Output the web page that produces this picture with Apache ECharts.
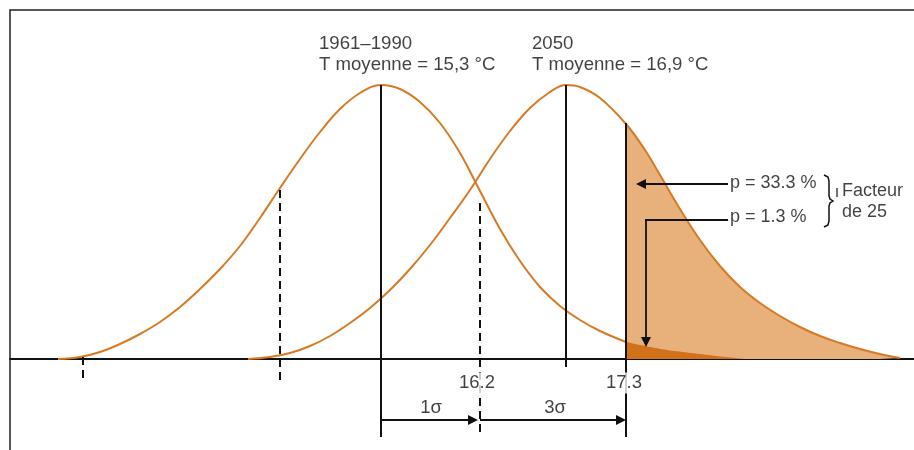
<!DOCTYPE html>
<html>
<head>
<meta charset="utf-8">
<script src="https://cdn.jsdelivr.net/npm/echarts@6/dist/echarts.min.js"></script>
<style>
  html, body { margin: 0; padding: 0; background: #fff; }
  #chart { width: 914px; height: 450px; }
</style>
</head>
<body>
<div id="chart"></div>
<script>
// horizontal position / height above the baseline
const curve1990 = [[58, 0], [80, 2], [100, 7], [120, 15], [140, 25], [160, 37], [180, 52], [200, 70],
  [220, 90], [240, 113], [260, 141], [280, 171], [300, 200], [320, 227], [340, 250], [360, 266],
  [381, 274], [400, 270], [420, 257], [440, 236], [460, 206], [480, 168], [500, 130], [520, 98],
  [540, 72], [560, 53], [580, 39], [600, 28], [626, 17]]
const tail1990 = [[626, 17], [667, 9], [745, 0]]
const curve2050 = [[248, 0], [270, 2], [290, 6], [310, 13], [330, 23], [350, 36], [370, 51], [390, 69],
  [410, 90], [430, 114], [450, 141], [470, 169], [490, 200], [510, 228], [530, 251], [550, 267],
  [566, 274], [580, 272], [600, 261], [626, 235], [645, 209], [660, 184], [680, 150], [700, 119],
  [720, 93], [740, 72], [760, 56], [780, 43], [800, 32], [820, 23], [840, 16], [860, 10], [880, 5],
  [900, 1]]
const tail2050 = curve2050.filter(p => p[0] >= 626)

// [x, top, bottom]
const meanLines = [[381, 274, -78], [566, 274, -8], [626, 236, -78]]
const sigmaLines = [[83, 2, -21], [280, 169, -21], [480, 156, -78]]

const sigmaArrows = [[[381, -61], [473, -61]], [[480, -61], [621, -61]]]
const probArrows = [[[728, 175], [641, 175]], [[646, 139], [646, 17]]]
const probLeader = [[[728, 139], [645, 139]]]

const titles = [['1961–1990\nT moyenne = 15,3 °C', 319, 326], ['2050\nT moyenne = 16,9 °C', 532, 326]]
const tempTicks = [['16.2', 477, -24], ['17.3', 624, -24]]
const sigmaTexts = [['1σ', 431, -49], ['3σ', 555, -49]]
const probTexts = [['p = 33.3 %', 729, 176], ['p = 1.3 %', 729, 142]]
const factorTexts = [['Facteur', 842, 168], ['de 25', 842, 147]]

const ORANGE = '#D67A24'
const LIGHT = '#E8B17C'
const DARK = '#D1721B'
const FONT = 'Liberation Sans, Arial, sans-serif'

const chart = echarts.init(document.getElementById('chart'))

function vLines(list) {
  return list.map(l => [{ coord: [l[0], l[1]] }, { coord: [l[0], l[2]] }])
}
function segs(list) {
  return list.map(s => [{ coord: s[0] }, { coord: s[1] }])
}
function textItems(list, align, vAlign, size, extra) {
  return list.map(t => ({
    value: [t[1], t[2]],
    label: Object.assign({
      show: true,
      position: 'inside',
      formatter: t[0],
      align: align,
      verticalAlign: vAlign,
      fontSize: size,
      fontFamily: FONT,
      color: '#111'
    }, extra || {})
  }))
}

chart.setOption({
  animation: false,
  backgroundColor: '#fff',
  grid: { left: 10, right: 0, top: 10, bottom: 0 },
  xAxis: {
    type: 'value',
    min: 10,
    max: 914,
    axisLine: { onZero: true, lineStyle: { color: '#111', width: 2 } },
    axisTick: { show: false },
    axisLabel: { show: false },
    splitLine: { show: false }
  },
  yAxis: {
    type: 'value',
    min: -91,
    max: 349,
    show: false
  },
  graphic: [
    {
      type: 'polyline',
      shape: { points: [[10, 450], [10, 10], [914, 10]] },
      style: { stroke: '#222', lineWidth: 1.5, fill: null },
      z: 100
    },
    {
      type: 'polyline',
      shape: { points: [[824, 175], [828, 177], [829, 181], [829, 196], [830, 199], [833, 201],
        [830, 203], [829, 206], [829, 221], [828, 225], [824, 227]] },
      style: { stroke: '#111', lineWidth: 1.5, fill: null },
      z: 100
    },
    {
      type: 'line',
      shape: { x1: 837, y1: 188, x2: 837, y2: 197 },
      style: { stroke: '#111', lineWidth: 1.2 },
      z: 100
    }
  ],
  series: [
    {
      name: 'queue 2050',
      type: 'line',
      data: tail2050,
      smooth: 0.4,
      symbol: 'none',
      lineStyle: { width: 0 },
      areaStyle: { color: LIGHT, opacity: 1 },
      z: 1
    },
    {
      name: 'queue 1961-1990',
      type: 'line',
      data: tail1990,
      smooth: 0.3,
      symbol: 'none',
      lineStyle: { width: 0 },
      areaStyle: { color: DARK, opacity: 1 },
      z: 2
    },
    {
      name: '1961-1990',
      type: 'line',
      data: curve1990,
      smooth: 0.4,
      symbol: 'none',
      lineStyle: { color: ORANGE, width: 2 },
      z: 3
    },
    {
      name: '2050',
      type: 'line',
      data: curve2050,
      smooth: 0.4,
      symbol: 'none',
      lineStyle: { color: ORANGE, width: 2 },
      z: 3
    },
    {
      name: 'moyennes',
      type: 'line',
      data: [],
      z: 4,
      markLine: {
        silent: true,
        symbol: ['none', 'none'],
        label: { show: false },
        lineStyle: { color: '#111', width: 2, type: 'solid' },
        data: vLines(meanLines)
      }
    },
    {
      name: 'sigma',
      type: 'line',
      data: [],
      z: 4,
      markLine: {
        silent: true,
        symbol: ['none', 'none'],
        label: { show: false },
        lineStyle: { color: '#111', width: 2, type: [8, 5] },
        data: vLines(sigmaLines)
      }
    },
    {
      name: 'fleches',
      type: 'line',
      data: [],
      z: 5,
      markLine: {
        silent: true,
        symbol: ['none', 'triangle'],
        symbolSize: 10,
        label: { show: false },
        lineStyle: { color: '#111', width: 1.8, type: 'solid' },
        data: segs(sigmaArrows).concat(segs(probArrows))
      }
    },
    {
      name: 'renvoi',
      type: 'line',
      data: [],
      z: 5,
      markLine: {
        silent: true,
        symbol: ['none', 'none'],
        label: { show: false },
        lineStyle: { color: '#111', width: 1.8, type: 'solid' },
        data: segs(probLeader)
      }
    },
    {
      name: 'textes',
      type: 'scatter',
      symbolSize: 0,
      silent: true,
      z: 10,
      data: [].concat(
        textItems(titles, 'left', 'top', 18.6, { lineHeight: 21 }),
        textItems(tempTicks, 'center', 'middle', 18.5, { backgroundColor: '#fff', padding: [1, 0] }),
        textItems(sigmaTexts, 'center', 'middle', 18.5),
        textItems(probTexts, 'left', 'middle', 18, { backgroundColor: '#fff', padding: [0, 1] }),
        textItems(factorTexts, 'left', 'middle', 18)
      )
    }
  ]
})
</script>
</body>
</html>
